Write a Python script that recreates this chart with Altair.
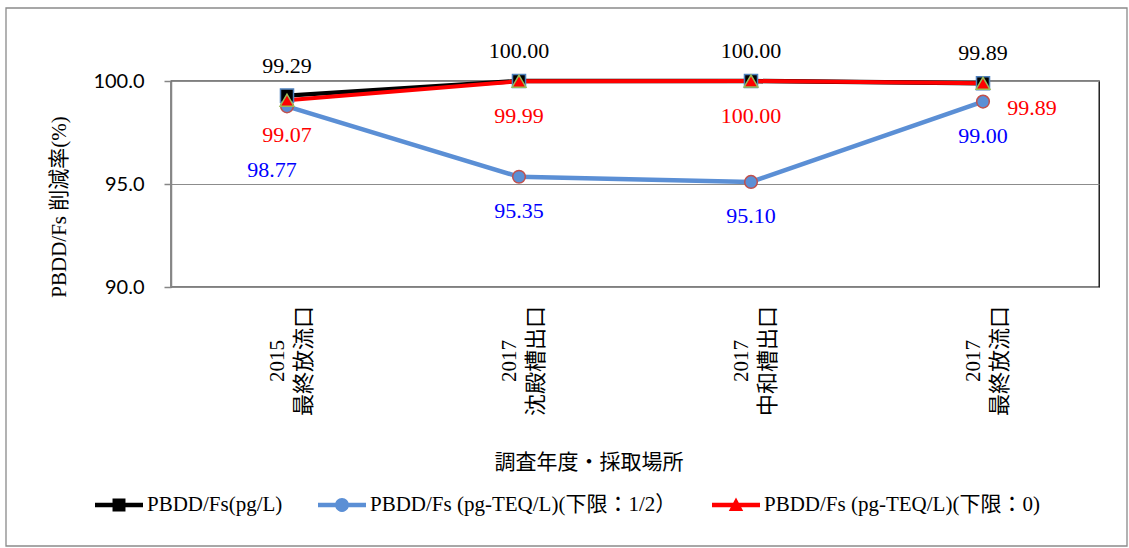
import altair as alt
import pandas as pd

# Survey year / sampling place for each category
years = ["2015", "2017", "2017", "2017"]
places = ["最終放流口", "沈殿槽出口", "中和槽出口", "最終放流口"]

# Series names and reduction rates (%)
series_names = [
    "PBDD/Fs(pg/L)",
    "PBDD/Fs (pg-TEQ/L)(下限：1/2）",
    "PBDD/Fs (pg-TEQ/L)(下限：0)",
]
rate_pg = [99.29, 100.00, 100.00, 99.89]
rate_teq_half = [98.77, 95.35, 95.10, 99.00]
rate_teq_zero = [99.07, 99.99, 100.00, 99.89]

y_ticks = [90, 95, 100]

x_title = "調査年度・採取場所"
y_title = "PBDD/Fs 削減率(%)"

categories = [f"{y}|{p}" for y, p in zip(years, places)]
rows = []
for name, vals in zip(series_names, [rate_pg, rate_teq_half, rate_teq_zero]):
    for i, (c, v) in enumerate(zip(categories, vals)):
        rows.append({"series": name, "idx": i, "cat": c, "val": v})
df = pd.DataFrame(rows)
cat_df = pd.DataFrame({"cat": categories, "year": years, "place": places})

SERIF = "'Liberation Serif', 'Noto Sans CJK JP'"
CJK = "'Noto Sans CJK JP'"
HEIGHT = 206

x_scale = alt.Scale(type="band", paddingInner=0, paddingOuter=0, domain=categories)
x_enc = alt.X(
    "cat:N",
    bandPosition=0.5,
    scale=x_scale,
    axis=alt.Axis(
        title=None,
        labels=False,
        tickBand="extent",
        tickSize=7,
        tickColor="#868686",
        tickWidth=1.5,
        domainColor="#868686",
        domainWidth=1.5,
        grid=False,
    ),
)

y_enc = alt.Y(
    "val:Q",
    scale=alt.Scale(domain=[90, 100], zero=False, nice=False),
    axis=alt.Axis(
        values=y_ticks,
        format=".1f",
        title=None,
        labelFont="Lato",
        labelFontSize=20,
        labelColor="black",
        labelPadding=20,
        tickSize=7,
        tickColor="#868686",
        tickWidth=1.5,
        domainColor="#868686",
        domainWidth=1.5,
        grid=True,
        gridColor="#8c8c8c",
        gridWidth=1.2,
    ),
)

base = alt.Chart(df).encode(x=x_enc, y=y_enc)


def series(name):
    return base.transform_filter(alt.datum.series == name)


s_pg, s_half, s_zero = (series(n) for n in series_names)

# Lines and markers
blue_line = s_half.mark_line(color="#5B8FD5", strokeWidth=4.5)
blue_pts = s_half.mark_point(
    shape="circle", size=160, filled=True, fill="#5B8FD5", stroke="#C0504D", strokeWidth=1.5, opacity=1
)
black_line = s_pg.mark_line(color="black", strokeWidth=4.5)
black_pts = s_pg.mark_point(
    shape="square", size=170, filled=True, fill="black", stroke="#4F81BD", strokeWidth=1.5, opacity=1
)
red_line = s_zero.mark_line(color="#FF0000", strokeWidth=4)
red_pts = s_zero.mark_point(
    shape="triangle-up", size=190, filled=True, fill="#FF0000", stroke="#9BBB59", strokeWidth=1.5, opacity=1
)

# Value labels
txt = dict(font=SERIF, fontSize=22, baseline="middle", align="center")
lbl = alt.Text("val:Q", format=".2f")
black_lbl = s_pg.mark_text(color="black", dy=-30, **txt).encode(text=lbl)
red_lbl = s_zero.transform_filter(alt.datum.idx < 3).mark_text(color="#FF0000", dy=35, **txt).encode(text=lbl)
red_lbl_last = s_zero.transform_filter(alt.datum.idx == 3).mark_text(
    color="#FF0000", dx=49, dy=25, **txt
).encode(text=lbl)
blue_lbl = s_half.transform_filter(alt.datum.idx > 0).mark_text(color="#0000FF", dy=34, **txt).encode(text=lbl)
blue_lbl_first = s_half.transform_filter(alt.datum.idx == 0).mark_text(
    color="#0000FF", dx=-15, dy=64, **txt
).encode(text=lbl)

# Category labels, two rotated lines per category (year, then place)
cat_txt = dict(font=SERIF, angle=270, align="center", baseline="middle", color="black")
year_lbl = (
    alt.Chart(cat_df)
    .mark_text(fontSize=21, **cat_txt)
    .encode(x=alt.X("cat:N", scale=x_scale, bandPosition=0.462, axis=None), y=alt.value(HEIGHT + 74), text="year:N")
)
place_lbl = (
    alt.Chart(cat_df)
    .mark_text(fontSize=22, **cat_txt)
    .encode(x=alt.X("cat:N", scale=x_scale, bandPosition=0.573, axis=None), y=alt.value(HEIGHT + 74), text="place:N")
)

# Axis titles
title_df = pd.DataFrame({"xt": [x_title], "yt": [y_title]})
x_title_mark = (
    alt.Chart(title_df)
    .mark_text(font=CJK, fontSize=21, align="center", baseline="middle", color="black")
    .encode(x=alt.value(418), y=alt.value(HEIGHT + 176), text="xt:N")
)
y_title_mark = (
    alt.Chart(title_df)
    .mark_text(font=SERIF, fontSize=21, angle=270, align="center", baseline="middle", color="black")
    .encode(x=alt.value(-111), y=alt.value(126), text="yt:N")
)

# Legend symbols: a line segment with the series marker on it (all sub-paths clockwise)
line_bar = "M-1,-0.09 L1,-0.09 L1,0.09 L-1,0.09 Z "
legend_paths = [
    line_bar + "M-0.27,-0.27 L0.27,-0.27 L0.27,0.27 L-0.27,0.27 Z",
    line_bar + "M-0.29,0 A0.29,0.29 0 1,1 0.29,0 A0.29,0.29 0 1,1 -0.29,0 Z",
    line_bar + "M0,-0.31 L0.3,0.25 L-0.3,0.25 Z",
]
legend_colors = ["black", "#5B8FD5", "#FF0000"]
leg = alt.Legend(
    title=None,
    orient="none",
    direction="horizontal",
    legendX=-76,
    legendY=400,
    symbolSize=2304,
    symbolOpacity=1,
    symbolStrokeWidth=0,
    labelFont=SERIF,
    labelFontSize=21,
    labelColor="black",
    labelLimit=0,
    labelOffset=4,
    columnPadding=35,
)
legend_layer = base.mark_point(filled=True, opacity=0).encode(
    color=alt.Color("series:N", scale=alt.Scale(domain=series_names, range=legend_colors), legend=leg),
    shape=alt.Shape("series:N", scale=alt.Scale(domain=series_names, range=legend_paths), legend=leg),
)

# Frame around the whole chart
frame = (
    alt.Chart(pd.DataFrame({"f": [0]}))
    .mark_rect(filled=False, stroke="#8a8a8a", strokeWidth=1.3)
    .encode(x=alt.value(-165), x2=alt.value(956), y=alt.value(-73), y2=alt.value(465))
)

chart = (
    alt.layer(
        frame,
        legend_layer,
        blue_line,
        black_line,
        red_line,
        blue_pts,
        black_pts,
        red_pts,
        black_lbl,
        red_lbl,
        red_lbl_last,
        blue_lbl,
        blue_lbl_first,
        year_lbl,
        place_lbl,
        x_title_mark,
        y_title_mark,
    )
    .properties(
        width=928,
        height=HEIGHT,
        padding={"left": 171, "top": 81, "right": 30, "bottom": 261},
        autosize=alt.AutoSizeParams(type="none"),
        background="white",
    )
    .configure_view(stroke="black", strokeWidth=1.3)
)

chart.save("out.html", embed_options={"renderer": "svg", "actions": False})
